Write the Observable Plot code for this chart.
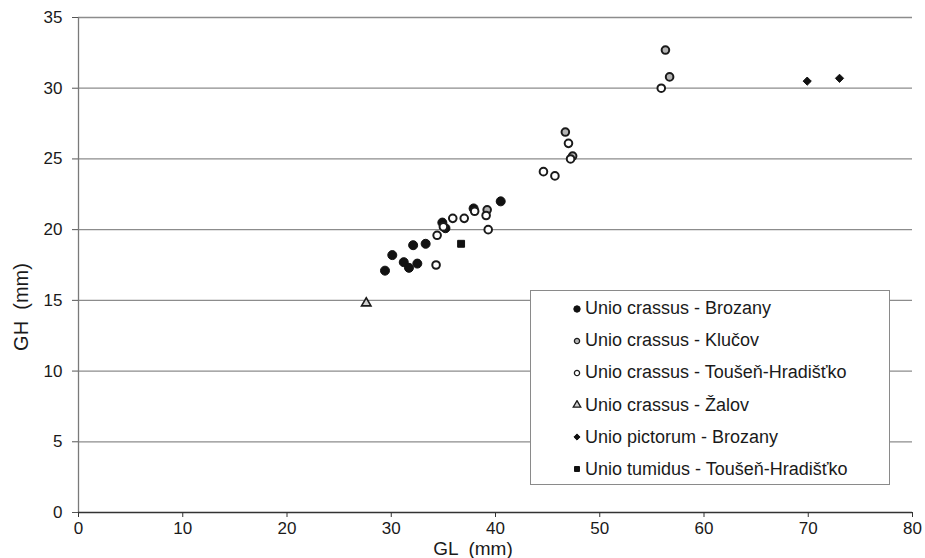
<!DOCTYPE html>
<html>
<head>
<meta charset="utf-8">
<script src="https://cdn.jsdelivr.net/npm/d3@7"></script>
<script src="https://cdn.jsdelivr.net/npm/@observablehq/plot@0.6"></script>
<style>
  html, body { margin: 0; padding: 0; background: #fff; }
  #wrap { position: relative; width: 925px; height: 558px; overflow: hidden; font-family: "Liberation Sans", Arial, sans-serif; color: #1a1a1a; }
  #legend { position: absolute; left: 530px; top: 290px; width: 358px; height: 193px; border: 1.5px solid #8a8a8a; background: #fff; }
  .row { position: absolute; left: 41px; height: 22px; display: flex; align-items: center; font-size: 18px; white-space: nowrap; }
  .row svg { margin-right: 3px; flex: none; }
  .atitle { position: absolute; font-size: 19px; line-height: 19px; white-space: pre; }
  #xtitle { left: 473px; top: 539px; transform: translateX(-50%); }
  #ytitle { left: 21px; top: 307px; transform: translate(-50%, -50%) rotate(-90deg); font-size: 20px; line-height: 20px; }
</style>
</head>
<body>
<div id="wrap">
  <div id="legend"></div>
  <div class="atitle" id="xtitle"></div>
  <div class="atitle" id="ytitle"></div>
</div>
<script>
// ---- data ----
const xTicks = [0, 10, 20, 30, 40, 50, 60, 70, 80];
const yTicks = [0, 5, 10, 15, 20, 25, 30, 35];
const xTitle = "GL  (mm)";
const yTitle = "GH  (mm)";

const seriesNames = [
  "Unio crassus - Brozany",
  "Unio crassus - Klučov",
  "Unio crassus - Toušeň-Hradišťko",
  "Unio crassus - Žalov",
  "Unio pictorum - Brozany",
  "Unio tumidus - Toušeň-Hradišťko"
];

const crassusBrozanyGL = [29.4, 30.1, 31.2, 31.7, 32.5, 32.1, 33.3, 34.9, 35.2, 37.9, 40.5];
const crassusBrozanyGH = [17.1, 18.2, 17.7, 17.3, 17.6, 18.9, 19.0, 20.5, 20.1, 21.5, 22.0];

const crassusKlucovGL = [39.2, 46.7, 47.4, 56.3, 56.7];
const crassusKlucovGH = [21.4, 26.9, 25.2, 32.7, 30.8];

const crassusTousenGL = [34.3, 34.4, 35.0, 35.9, 37.0, 38.0, 39.1, 39.3, 44.6, 45.7, 47.0, 47.2, 55.9];
const crassusTousenGH = [17.5, 19.6, 20.2, 20.8, 20.8, 21.3, 21.0, 20.0, 24.1, 23.8, 26.1, 25.0, 30.0];

const crassusZalovGL = [27.6];
const crassusZalovGH = [14.8];

const pictorumBrozanyGL = [69.9, 73.0];
const pictorumBrozanyGH = [30.5, 30.7];

const tumidusTousenGL = [36.7];
const tumidusTousenGH = [19.0];

// ---- styles per series ----
const styles = [
  {symbol: "circle",   fill: "#111", stroke: "#111", r: 4.5, sw: 1,   lr: 3.2},
  {symbol: "circle",   fill: "#b4b4b4", stroke: "#1a1a1a", r: 3.8, sw: 2, lr: 2.6},
  {symbol: "circle",   fill: "#fff", stroke: "#1a1a1a", r: 3.8, sw: 2, lr: 2.6},
  {symbol: "triangle", fill: "#d0d0d0", stroke: "#1a1a1a", r: 3.5, sw: 1.6, lr: 2.8},
  {symbol: "diamond2", fill: "#111", stroke: "#111", r: 3.7, sw: 1, lr: 2.8},
  {symbol: "square",   fill: "#111", stroke: "#111", r: 3.9, sw: 1, lr: 2.8}
];

const gls = [crassusBrozanyGL, crassusKlucovGL, crassusTousenGL, crassusZalovGL, pictorumBrozanyGL, tumidusTousenGL];
const ghs = [crassusBrozanyGH, crassusKlucovGH, crassusTousenGH, crassusZalovGH, pictorumBrozanyGH, tumidusTousenGH];

const tables = gls.map((g, i) => g.map((v, j) => ({GL: v, GH: ghs[i][j], series: seriesNames[i]})));

const font = "'Liberation Sans', Arial, sans-serif";

const chart = Plot.plot({
  width: 925,
  height: 558,
  marginLeft: 78,
  marginRight: 13,
  marginTop: 17,
  marginBottom: 46,
  style: {fontFamily: font, fontSize: "17px", color: "#1a1a1a", background: "#fff"},
  x: {domain: [0, 80]},
  y: {domain: [0, 35]},
  marks: [
    Plot.gridY(yTicks.filter(d => d > 0), {stroke: "#8c8c8c", strokeOpacity: 1, strokeWidth: 1.3}),
    Plot.ruleX([0], {stroke: "#7a7a7a", strokeWidth: 1.3}),
    Plot.ruleY([0], {stroke: "#333", strokeWidth: 1.5}),
    Plot.axisY({ticks: yTicks, tickSize: 6, tickPadding: 10, stroke: "#555", fontSize: 17, label: null}),
    Plot.axisX({ticks: xTicks, tickSize: 5, tickPadding: 4, stroke: "#333", fontSize: 17, label: null}),
    ...tables.map((t, i) => Plot.dot(t, {
      x: "GL", y: "GH",
      symbol: () => styles[i].symbol,
      r: styles[i].r,
      fill: styles[i].fill,
      stroke: styles[i].stroke,
      strokeWidth: styles[i].sw
    }))
  ]
});
document.getElementById("wrap").prepend(chart);
document.getElementById("xtitle").textContent = xTitle;
document.getElementById("ytitle").textContent = yTitle;

// ---- legend ----
const legend = document.getElementById("legend");
const symMap = {circle: d3.symbolCircle, triangle: d3.symbolTriangle, diamond2: d3.symbolDiamond2, square: d3.symbolSquare};
seriesNames.forEach((name, i) => {
  const s = styles[i];
  const row = document.createElement("div");
  row.className = "row";
  row.style.top = (17.7 + i * 32.1 - 11) + "px";
  const size = Math.PI * s.lr * s.lr;
  const path = d3.symbol(symMap[s.symbol], size)();
  row.innerHTML = `<svg width="10" height="10" viewBox="-5 -5 10 10"><path d="${path}" fill="${s.fill}" stroke="${s.stroke}" stroke-width="${Math.min(s.sw, 1.3)}"/></svg><span>${name}</span>`;
  legend.appendChild(row);
});
</script>
</body>
</html>
